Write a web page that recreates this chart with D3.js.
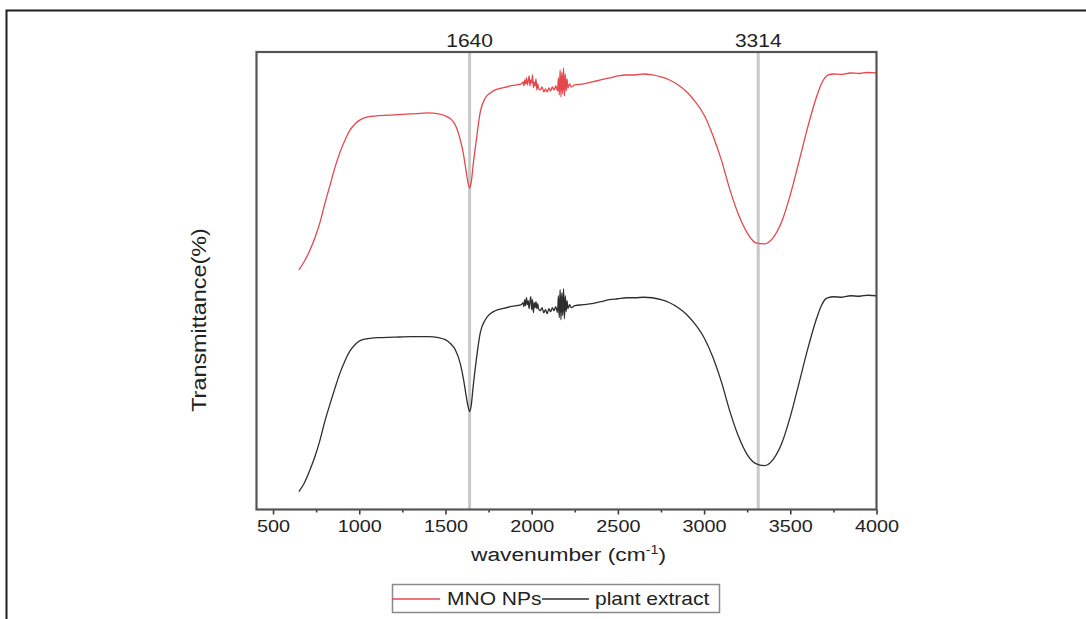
<!DOCTYPE html>
<html>
<head>
<meta charset="utf-8">
<script src="https://cdn.jsdelivr.net/npm/d3@7"></script>
<style>
	body { margin: 0; background: #fff; }
	text { font-family: "Liberation Sans", Arial, sans-serif; fill: #222; }
</style>
</head>
<body>
<div id="ftir"></div>
<script>
/* FTIR spectra: MNO NPs vs plant extract
 * curves (arbitrary transmittance units)
 */

// shared wavenumber grid (cm-1)
var wavenumber = [
	650, 680, 715, 745, 773, 800, 831, 860, 889, 920,
	947, 975, 1005, 1050, 1100, 1200, 1300, 1400, 1460, 1499,
	1530, 1557, 1586, 1605, 1617, 1630, 1640, 1650, 1660, 1679,
	1702, 1731, 1760, 1789, 1830, 1876, 1910, 1940,
	1950, 1955, 1960, 1965, 1970, 1975, 1980, 1985, 1990, 1995,
	2000, 2005, 2010, 2015, 2020, 2025, 2030, 2035, 2040,
	2050, 2060, 2070, 2080, 2090, 2100, 2110, 2120, 2130, 2140, 2150,
	2155, 2160, 2165, 2170, 2175, 2180, 2185, 2190, 2195, 2200, 2205, 2210,
	2220, 2230, 2250,
	2300, 2350, 2400, 2450, 2500, 2550, 2600, 2650, 2700, 2750,
	2800, 2850, 2900, 2950, 3000, 3050, 3100, 3150, 3200, 3250,
	3300, 3350, 3400, 3450, 3500, 3550, 3600, 3650,
	3680, 3700, 3720, 3750, 3800, 3850, 3900, 3950, 4000
];

// red curve
var mnoNPs = [
	48.0, 49.6, 52.0, 54.6, 57.6, 61.2, 65.0, 68.6, 71.6, 74.2,
	76.0, 77.2, 78.0, 78.6, 78.8, 79.0, 79.2, 79.4, 79.2, 78.8,
	78.2, 77.0, 74.0, 71.0, 68.4, 65.6, 64.4, 65.6, 68.8, 74.0,
	79.6, 82.4, 83.4, 84.0, 84.4, 84.8, 85.0, 85.2,
	85.6, 84.8, 86.0, 85.2, 86.4, 85.0, 85.8, 86.8, 84.8, 86.0,
	85.4, 87.0, 84.4, 85.6, 84.8, 86.2, 84.0, 85.2, 84.4,
	84.0, 84.6, 83.6, 84.2, 83.6, 84.4, 83.8, 84.6, 84.0, 84.8, 83.8,
	86.4, 83.0, 88.0, 82.6, 87.6, 83.2, 88.4, 82.8, 87.2, 83.8, 86.2, 84.4,
	85.2, 84.6, 85.0,
	85.2, 85.6, 86.0, 86.4, 86.8, 87.0, 87.0, 87.2, 87.0, 86.6,
	86.0, 85.0, 83.6, 81.6, 79.0, 75.0, 70.0, 64.0, 59.0, 55.4,
	53.4, 53.2, 54.4, 57.6, 63.0, 69.6, 76.4, 82.4,
	85.2, 86.4, 87.0, 87.2, 87.1, 87.4, 87.3, 87.5, 87.4
];

// black curve
var plantExtract = [
	3.6, 5.2, 8.0, 10.8, 14.0, 17.6, 21.2, 24.4, 27.4, 30.0,
	31.8, 33.0, 33.8, 34.2, 34.4, 34.5, 34.6, 34.6, 34.4, 34.0,
	33.2, 32.0, 29.2, 26.0, 23.4, 20.8, 19.6, 21.0, 24.4, 30.0,
	35.4, 38.0, 39.2, 39.8, 40.2, 40.6, 40.8, 41.0,
	41.4, 40.6, 42.0, 40.8, 42.4, 41.0, 41.8, 40.2, 41.6, 42.6,
	40.0, 42.0, 39.4, 41.4, 40.4, 41.6, 40.2, 41.2, 40.2,
	39.8, 40.4, 39.4, 40.0, 39.2, 40.2, 39.6, 40.4, 39.8, 40.6, 39.4,
	42.8, 38.4, 44.0, 38.0, 43.4, 38.8, 44.2, 38.2, 42.8, 39.6, 41.8, 40.2,
	41.0, 40.4, 40.8,
	41.0, 41.2, 41.6, 42.0, 42.2, 42.4, 42.4, 42.5, 42.4, 42.0,
	41.4, 40.4, 39.0, 37.0, 34.4, 30.6, 25.6, 19.6, 14.6, 11.0,
	9.2, 8.8, 10.0, 13.2, 18.6, 25.2, 32.0, 38.0,
	40.8, 42.0, 42.4, 42.6, 42.5, 42.8, 42.7, 42.9, 42.8
];

var xTicks = [500, 1000, 1500, 2000, 2500, 3000, 3500, 4000];
var xMinorTicks = [750, 1250, 1750, 2250, 2750, 3250, 3750];
var peaks = [1640, 3314];
var seriesNames = ["MNO NPs", "plant extract"];
var seriesColors = ["#e5474d", "#2e2e2e"];

//~~~~~~~~~~~~~~~~~~~~~~~~~~~~~~~~~~~~~~~~~~~~~~~~~~~~~~~~~~~~~~~~~~~~~~
// the source picture is stretched sideways, so squeeze text the same way
var STRETCH = 1.2;

function main(){

	var width = 1086,
		height = 619;

	var plot = { left: 256.5, right: 876.5, top: 52, bottom: 509.5 };

	var svg = d3.select("#ftir").append("svg")
		.attr("width", width)
		.attr("height", height);

	// outer frame, runs off the right and bottom edge
	svg.append("path")
		.attr("d", "M6.5," + height + "V10.5H" + width)
		.attr("fill", "none")
		.attr("stroke", "#1e1e1e")
		.attr("stroke-width", 2);

	var x = d3.scaleLinear()
		.domain([404, 4000])
		.range([plot.left, plot.right]);

	var y = d3.scaleLinear()
		.domain([0, 91.6])
		.range([plot.bottom, plot.top]);

	// peak marker lines
	svg.selectAll(".peak_line")
		.data(peaks).enter()
		.append("line")
		.attr("class", "peak_line")
		.attr("x1", d => x(d))
		.attr("x2", d => x(d))
		.attr("y1", plot.top)
		.attr("y2", plot.bottom)
		.attr("stroke", "#c8c8c8")
		.attr("stroke-width", 3);

	svg.selectAll(".peak_label")
		.data(peaks).enter()
		.append("text")
		.attr("class", "peak_label")
		.attr("transform", d => "translate(" + x(d) + ",47) scale(" + STRETCH + ",1)")
		.attr("text-anchor", "middle")
		.attr("font-size", 17.5)
		.text(d => d);

	// spectra
	var line = d3.line()
		.x(d => x(d[0]))
		.y(d => y(d[1]))
		.curve(d3.curveMonotoneX);

	var series = [mnoNPs, plantExtract];
	series.forEach(function(vals, i){
		svg.append("path")
			.datum(d3.zip(wavenumber, vals))
			.attr("d", line)
			.attr("fill", "none")
			.attr("stroke", seriesColors[i])
			.attr("stroke-width", 1.3)
			.attr("stroke-linejoin", "round");
	});

	// bottom axis, major + minor ticks
	var xAxis = svg.append("g")
		.attr("transform", "translate(0," + plot.bottom + ")")
		.call(d3.axisBottom(x).tickValues(xTicks).tickSize(5).tickPadding(6).tickFormat(d3.format("d")));

	xAxis.select(".domain").remove();
	xAxis.selectAll("line").attr("stroke", "#3a3a3a").attr("stroke-width", 1.6);
	xAxis.selectAll("text")
		.attr("font-family", "'Liberation Sans', Arial, sans-serif")
		.attr("font-size", 16.5)
		.attr("fill", "#222")
		.attr("transform", "scale(" + STRETCH + ",1)");

	var xMinor = svg.append("g")
		.attr("transform", "translate(0," + plot.bottom + ")")
		.call(d3.axisBottom(x).tickValues(xMinorTicks).tickSize(3).tickFormat(""));

	xMinor.select(".domain").remove();
	xMinor.selectAll("line").attr("stroke", "#3a3a3a").attr("stroke-width", 1.6);

	// plot frame
	svg.append("rect")
		.attr("x", plot.left)
		.attr("y", plot.top)
		.attr("width", plot.right - plot.left)
		.attr("height", plot.bottom - plot.top)
		.attr("fill", "none")
		.attr("stroke", "#555")
		.attr("stroke-width", 2.2);

	// axis titles
	var xTitle = svg.append("text")
		.attr("transform", "translate(" + ((plot.left + plot.right) / 2 + 2) + ",561) scale(" + STRETCH + ",1)")
		.attr("text-anchor", "middle")
		.attr("font-size", 19);
	xTitle.append("tspan").text("wavenumber (cm");
	xTitle.append("tspan").attr("dy", -7).attr("font-size", 12).text("-1");
	xTitle.append("tspan").attr("dy", 7).text(")");

	svg.append("text")
		.attr("transform", "translate(206,320) rotate(-90) scale(" + STRETCH + ",1)")
		.attr("text-anchor", "middle")
		.attr("font-size", 19.5)
		.text("Transmittance(%)");

	// legend
	var legend = svg.append("g").attr("class", "legend");

	legend.append("rect")
		.attr("x", 392.5)
		.attr("y", 584.5)
		.attr("width", 327)
		.attr("height", 28)
		.attr("fill", "#fff")
		.attr("stroke", "#8a8a8a")
		.attr("stroke-width", 1.5);

	var legendX = [[392, 440, 447], [542, 589, 595]];
	seriesNames.forEach(function(name, i){
		legend.append("line")
			.attr("x1", legendX[i][0])
			.attr("x2", legendX[i][1])
			.attr("y1", 599)
			.attr("y2", 599)
			.attr("stroke", seriesColors[i])
			.attr("stroke-width", 1.5);

		legend.append("text")
			.attr("transform", "translate(" + legendX[i][2] + ",605) scale(" + STRETCH + ",1)")
			.attr("font-size", 17.5)
			.text(name);
	});
}

main();
</script>
</body>
</html>
